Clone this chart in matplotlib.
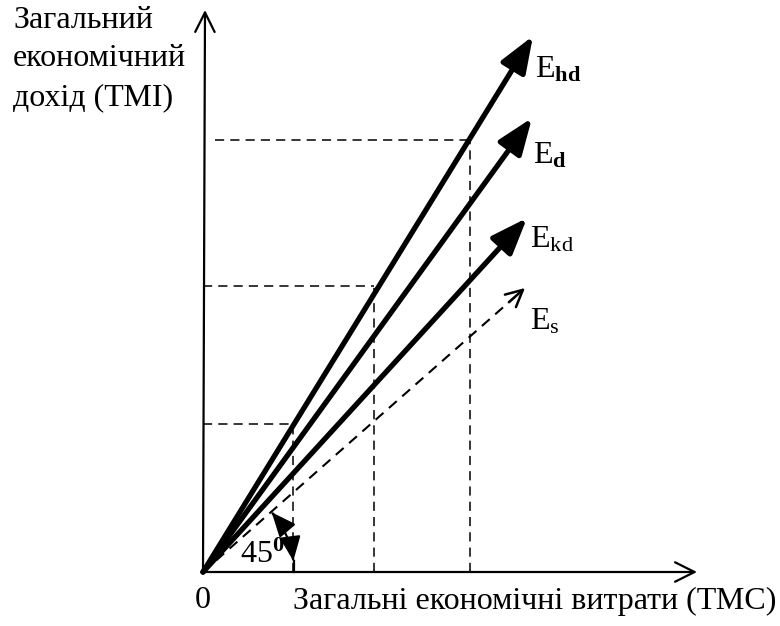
import numpy as np
import matplotlib
matplotlib.use("Agg")
import matplotlib.pyplot as plt
from matplotlib.patches import FancyArrowPatch
from matplotlib.path import Path

plt.rcParams['font.family'] = ['Liberation Serif', 'DejaVu Serif']
plt.rcParams['mathtext.fontset'] = 'custom'
plt.rcParams['mathtext.rm'] = 'Liberation Serif'
plt.rcParams['mathtext.it'] = 'Liberation Serif:italic'
plt.rcParams['mathtext.bf'] = 'Liberation Serif:bold'

# ---- data (pixel-like units from the origin) ----
line_labels = [r'$\mathrm{E}_{\mathbf{hd}}$', r'$\mathrm{E}_{\mathbf{d}}$',
               r'$\mathrm{E}_{\mathrm{kd}}$', r'$\mathrm{E}_{\mathrm{s}}$']
end_x = [330, 329, 324, 322]
end_y = [536, 454, 354, 284]
label_x = [332, 330, 327, 327]
label_y = [494, 409, 325, 242]
guide_x = [90, 171, 267]
guide_y = [148, 286, 432]
guide_x0 = [0, 0, 12]
y_title = "Загальний\nекономічний\nдохід (ТМІ)"
x_title = "Загальні економічні витрати (ТМС)"
angle_label = r'$45^{\mathbf{0}}$'

FS = 23

fig = plt.figure(figsize=(7.8, 6.26), dpi=100)
ax = fig.add_axes([0, 0, 1, 1])
ax.set_xlim(-203, 577)
ax.set_ylim(-54, 572)
ax.axis('off')

# axes
ax.annotate('', xy=(2, 562), xytext=(0, 0),
            arrowprops=dict(arrowstyle='->,head_length=0.7,head_width=0.35',
                            lw=1.6, color='black', mutation_scale=20,
                            shrinkA=0, shrinkB=0))
ax.annotate('', xy=(494, 0), xytext=(0, 0),
            arrowprops=dict(arrowstyle='->,head_length=0.7,head_width=0.35',
                            lw=1.6, color='black', mutation_scale=20,
                            shrinkA=0, shrinkB=0))

# guide dashed lines
for gx, gy, gx0 in zip(guide_x, guide_y, guide_x0):
    ax.plot([gx0, gx], [gy, gy], color='black', lw=1.1, ls=(0, (6, 4)))
    ax.plot([gx, gx], [0, gy], color='black', lw=1.1, ls=(0, (6, 4)))

# E_s dashed arrow
ex, ey = end_x[3], end_y[3]
ax.plot([0, ex * 0.97], [0, ey * 0.97], color='black', lw=1.5, ls=(0, (5, 3.5)))
ax.annotate('', xy=(ex, ey), xytext=(ex * 0.95, ey * 0.95),
            arrowprops=dict(arrowstyle='->,head_length=0.6,head_width=0.3',
                            lw=1.8, color='black', mutation_scale=20,
                            shrinkA=0, shrinkB=0))

# solid arrows
for x, y in zip(end_x[:3], end_y[:3]):
    ax.annotate('', xy=(x, y), xytext=(0, 0),
                arrowprops=dict(arrowstyle='-|>,head_length=1.1,head_width=0.42',
                                lw=3.8, color='black', mutation_scale=20,
                                shrinkA=0, shrinkB=0))

for lab, lx, ly in zip(line_labels, label_x, label_y):
    ax.text(lx, ly, lab, fontsize=FS, ha='left', va='baseline')

# angle arc
r = 91
th = np.radians(np.linspace(7, 41, 40))
arc = Path(np.column_stack([r * np.cos(th[::-1]), r * np.sin(th[::-1])]))
ax.add_patch(FancyArrowPatch(path=arc, arrowstyle='<|-|>,head_length=0.75,head_width=0.32',
                             lw=1.6, color='black', mutation_scale=20,
                             shrinkA=0, shrinkB=0))
ax.plot([r, r], [0, r * np.sin(np.radians(7))], color='black', lw=1.6)
ax.text(37, 9, angle_label, fontsize=FS, ha='left', va='baseline')

# texts
ax.text(0, -29, '0', fontsize=FS, ha='center', va='center')
ax.text(90, -29, x_title, fontsize=FS, ha='left', va='center')
ax.text(-190, 566, y_title, fontsize=FS, ha='left', va='top', linespacing=1.43)

fig.savefig('out.png', dpi=100)
